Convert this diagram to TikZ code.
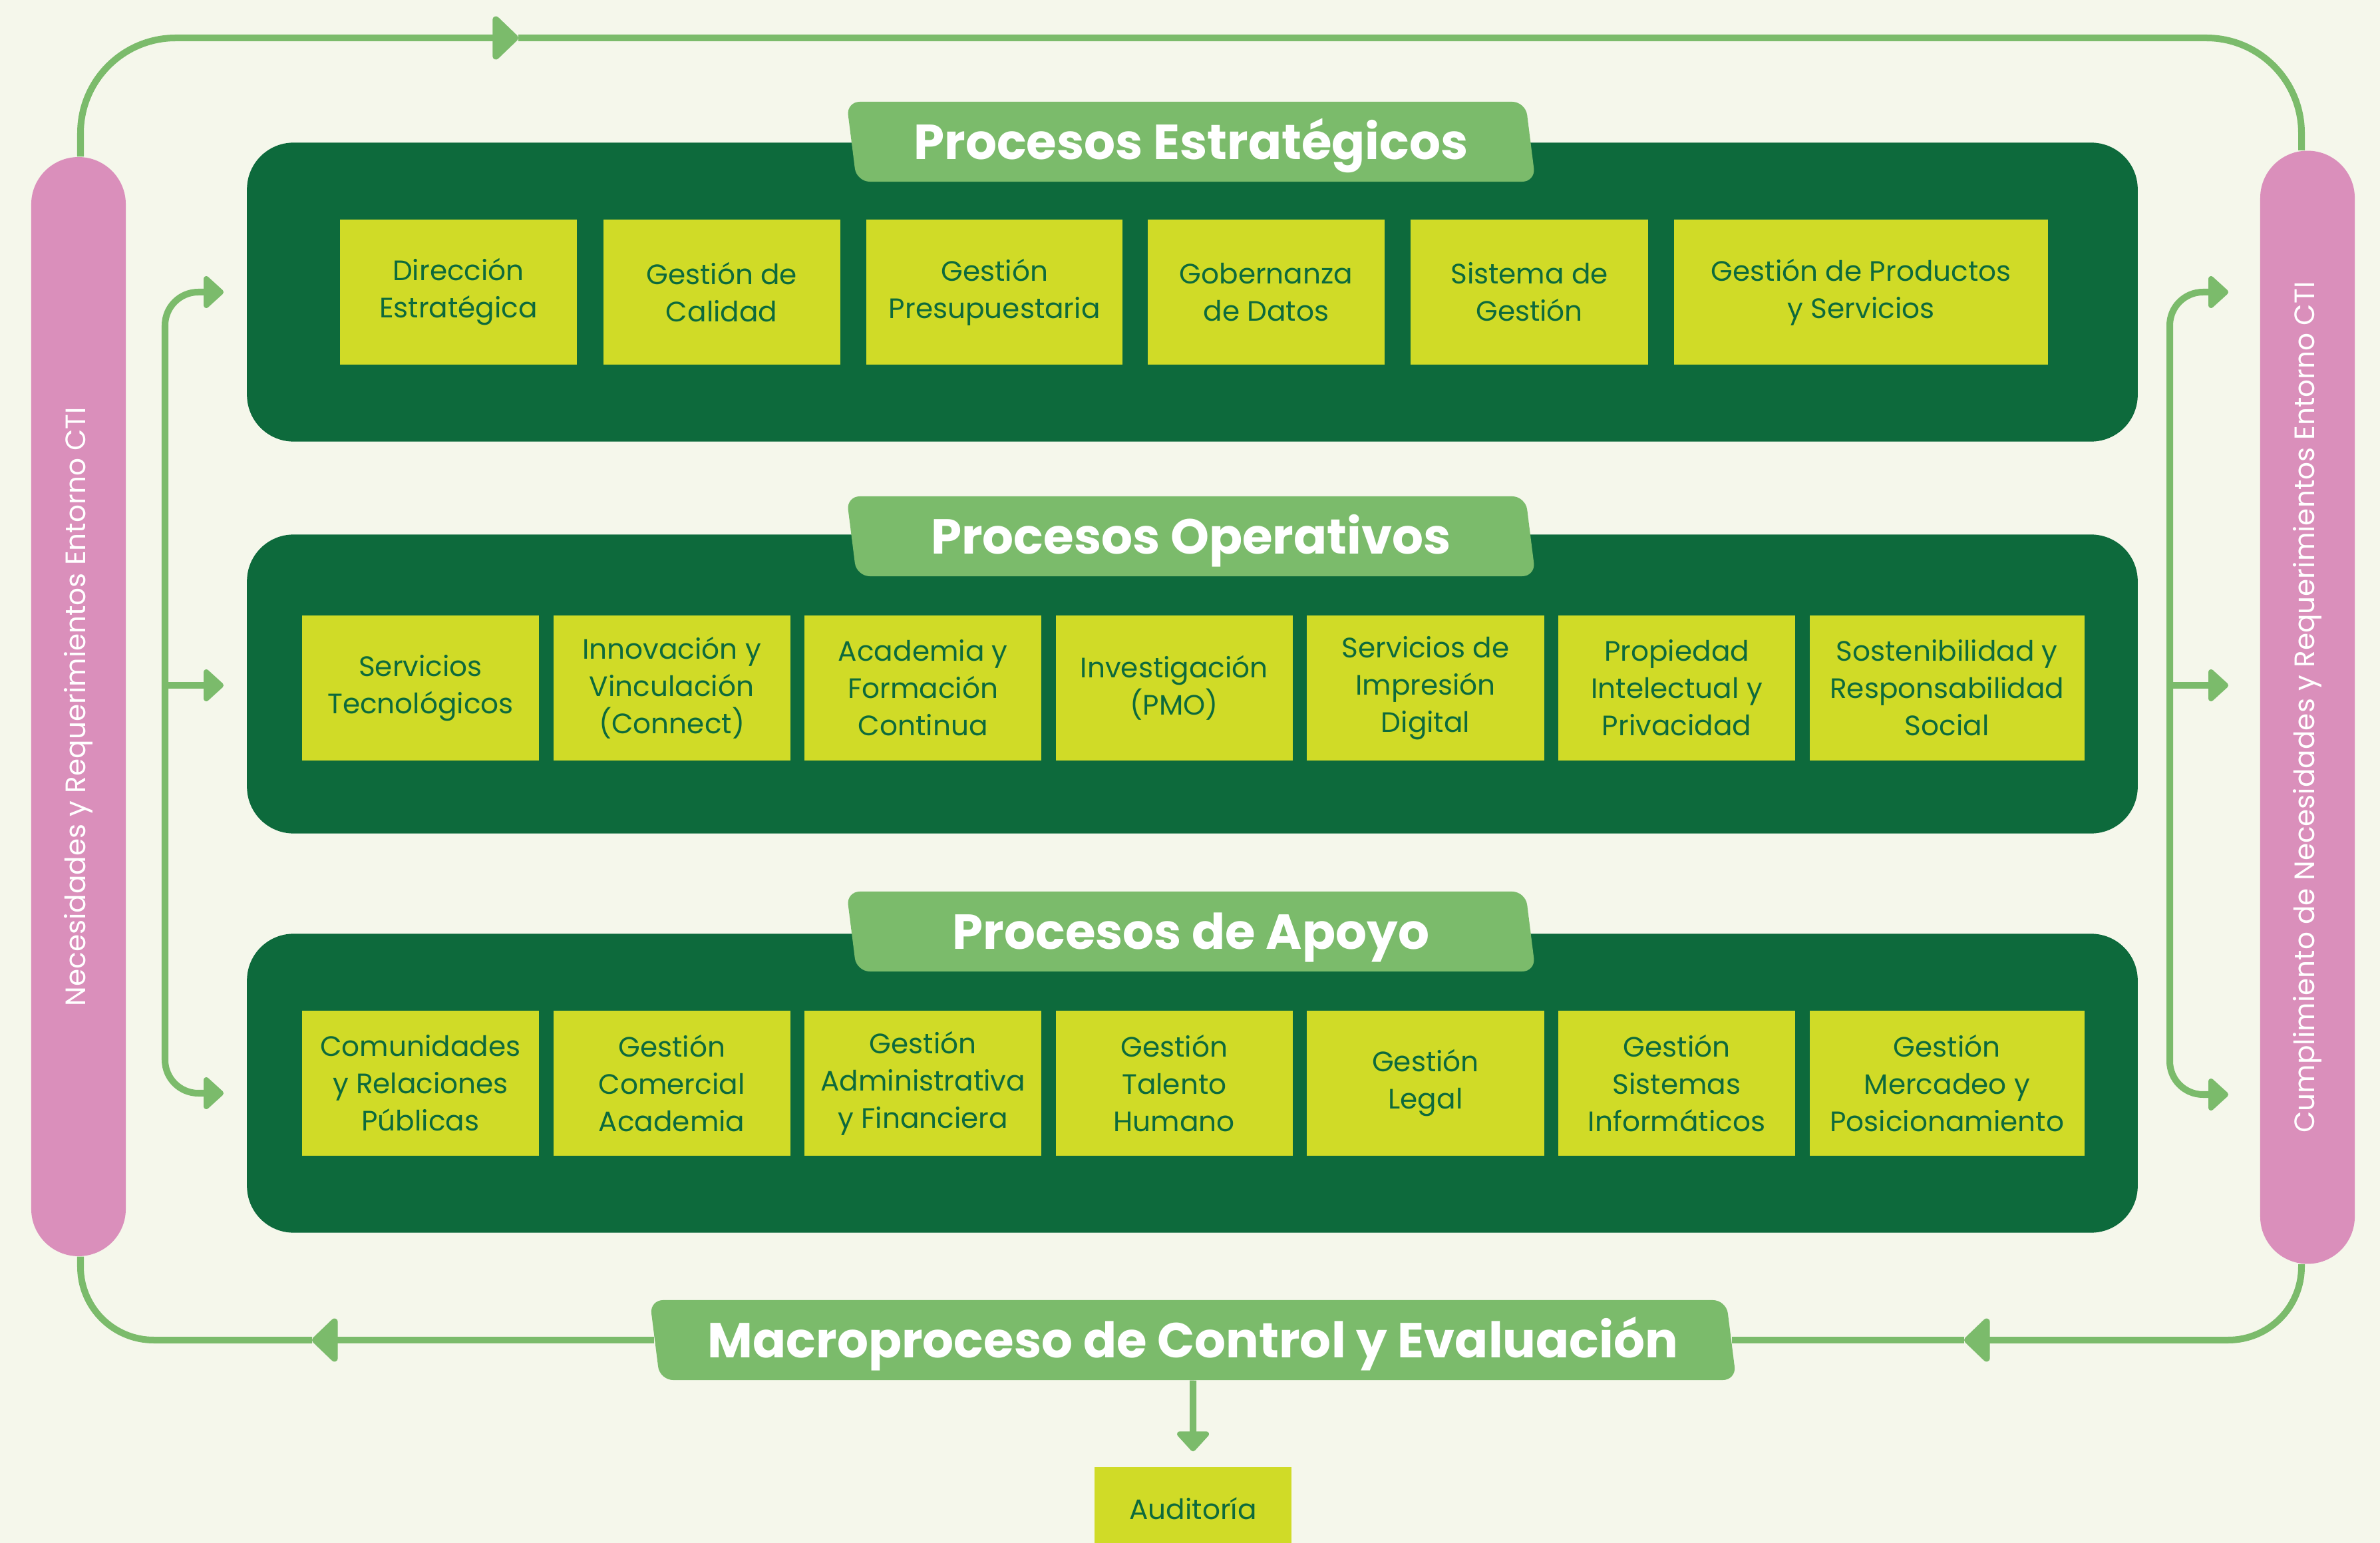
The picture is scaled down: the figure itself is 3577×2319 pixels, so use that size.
\documentclass[tikz,border=0pt]{standalone}
\usepackage{fontspec}
\setmainfont{Poppins}
\usetikzlibrary{positioning,arrows.meta,shapes.geometric,shapes.misc}
\definecolor{fondo}{HTML}{F5F7EB}
\definecolor{verdeosc}{HTML}{0D6A3C}
\definecolor{verdeclaro}{HTML}{7BBB6B}
\definecolor{lima}{HTML}{D0DB27}
\definecolor{rosa}{HTML}{DA8FBB}

\begin{document}
\begin{tikzpicture}[x=0.01cm, y=-0.01cm,
		panel/.style={fill=verdeosc, rounded corners=0.7cm, minimum width=28.4cm, minimum height=4.49cm},
		banner/.style={trapezium, trapezium left angle=106, trapezium right angle=74, trapezium stretches body=true, fill=verdeclaro, rounded corners=0.2cm, minimum width=10.35cm, minimum height=1.2cm, inner sep=0pt, text height=15pt, text depth=0pt, text=white, font=\fontsize{21}{26}\selectfont\bfseries},
		proc/.style={fill=lima, text=verdeosc, minimum width=3.56cm, minimum height=2.17cm, inner sep=0pt, align=center, font=\fontsize{12}{15.9}\selectfont},
		barra/.style={rounded rectangle, fill=rosa, rotate=90, minimum height=1.42cm, inner sep=0pt, text=white, font=\fontsize{12}{15}\selectfont},
		flujo/.style={draw=verdeclaro, line width=0.1cm},
		punta/.style={-{Triangle[length=0.41cm, width=0.76cm, round]}},
		puntita/.style={-{Triangle[length=0.32cm, width=0.56cm, round]}}]
	\path [use as bounding box, fill=fondo] (0,0) rectangle (3577,2319);
	%Entorno
	\node (necesidades) [barra, minimum width=16.51cm] at (118,1062) {Necesidades y Requerimientos Entorno CTI};
	\node (cumplimiento) [barra, minimum width=16.72cm] at (3468,1063) {Cumplimiento de Necesidades y Requerimientos Entorno CTI};
	%Bloques
	\node (pe) [panel] at (1792,439) {};
	\node (po) [panel] at (1792,1028) {};
	\node (pa) [panel] at (1792,1628) {};
	\node (te) [banner] at (1790,213) {Procesos Estratégicos};
	\node (to) [banner] at (1790,806) {Procesos Operativos};
	\node (ta) [banner] at (1790,1400) {Procesos de Apoyo};
	\node (macro) [banner, minimum width=16.32cm] at (1793,2014) {Macroproceso de Control y Evaluación};
	\node (auditoria) [proc, minimum width=2.96cm, minimum height=1.24cm] at (1793,2267) {Auditoría};
	%Estratégicos
	\node (e1) [proc] at (689,439) {Dirección\\Estratégica};
	\node (e2) [proc, right=0.38cm of e1] {Gestión de\\Calidad};
	\node (e3) [proc, minimum width=3.85cm, right=0.38cm of e2] {Gestión\\Presupuestaria};
	\node (e4) [proc, right=0.36cm of e3] {Gobernanza\\de Datos};
	\node (e5) [proc, right=0.38cm of e4] {Sistema de\\Gestión};
	\node (e6) [proc, minimum width=5.62cm, right=0.38cm of e5] {Gestión de Productos\\y Servicios};
	%Operativos
	\node (o1) [proc] at (632,1034) {Servicios\\Tecnológicos};
	\node (o2) [proc, right=0.2cm of o1] {Innovación y\\Vinculación\\(Connect)};
	\node (o3) [proc, right=0.2cm of o2] {Academia y\\Formación\\Continua};
	\node (o4) [proc, right=0.2cm of o3] {Investigación\\(PMO)};
	\node (o5) [proc, right=0.2cm of o4] {Servicios de\\Impresión\\Digital};
	\node (o6) [proc, right=0.2cm of o5] {Propiedad\\Intelectual y\\Privacidad};
	\node (o7) [proc, minimum width=4.13cm, right=0.2cm of o6] {Sostenibilidad y\\Responsabilidad\\Social};
	%Apoyo
	\node (a1) [proc] at (632,1628) {Comunidades\\y Relaciones\\Públicas};
	\node (a2) [proc, right=0.2cm of a1] {Gestión\\Comercial\\Academia};
	\node (a3) [proc, right=0.2cm of a2] {Gestión\\Administrativa\\y Financiera};
	\node (a4) [proc, right=0.2cm of a3] {Gestión\\Talento\\Humano};
	\node (a5) [proc, right=0.2cm of a4] {Gestión\\Legal};
	\node (a6) [proc, right=0.2cm of a5] {Gestión\\Sistemas\\Informáticos};
	\node (a7) [proc, minimum width=4.13cm, right=0.2cm of a6] {Gestión\\Mercadeo y\\Posicionamiento};
	%Ciclo
	\coordinate (flechaS) at (779,57);
	\coordinate (flechaI) at (macro.west -| 469,0);
	\coordinate (flechaD) at (macro.east -| 2952,0);
	\draw [flujo, punta, rounded corners=1.43cm] ([xshift=0.03cm]necesidades.east) |- (flechaS);
	\draw [flujo, rounded corners=1.43cm] (flechaS) -| ([xshift=-0.09cm]cumplimiento.east);
	\draw [flujo, punta, rounded corners=1.1cm] ([xshift=-0.09cm]cumplimiento.west) |- (flechaD);
	\draw [flujo] (flechaD) -- (macro.east);
	\draw [flujo, punta] (macro.west) -- (flechaI);
	\draw [flujo, rounded corners=1.1cm] (flechaI) -| ([xshift=0.03cm]necesidades.west);
	\draw [flujo, puntita, shorten >=0.23cm] (macro.south) -- (auditoria.north);
	%Llaves
	\coordinate (llaveI) at (248,1030);
	\coordinate (iS) at (336,439);
	\coordinate (iM) at (336,1030);
	\coordinate (iB) at (336,1643);
	\draw [flujo, puntita, rounded corners=0.5cm] (llaveI) |- (iS);
	\draw [flujo, puntita] (llaveI) -- (iM);
	\draw [flujo, puntita, rounded corners=0.5cm] (llaveI) |- (iB);
	\coordinate (llaveD) at (3261,1030);
	\coordinate (dS) at (3349,439);
	\coordinate (dM) at (3349,1030);
	\coordinate (dB) at (3349,1645);
	\draw [flujo, puntita, rounded corners=0.5cm] (llaveD) |- (dS);
	\draw [flujo, puntita] (llaveD) -- (dM);
	\draw [flujo, puntita, rounded corners=0.5cm] (llaveD) |- (dB);
\end{tikzpicture}
\end{document}
